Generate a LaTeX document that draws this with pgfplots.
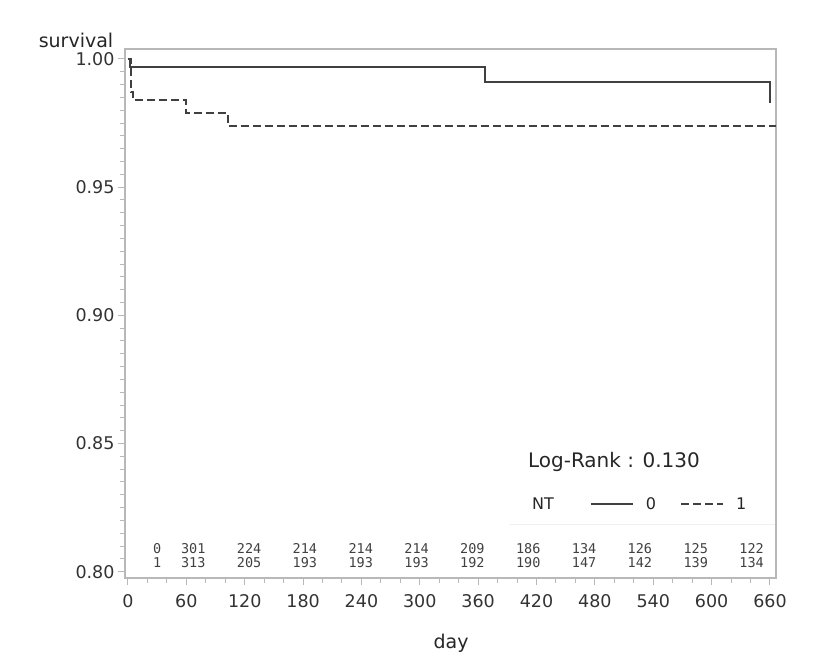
\documentclass[border=0pt]{standalone}
\usepackage{fontspec}
\setmainfont{DejaVu Sans}
\newfontfamily\monofont{DejaVu Sans Mono}
\usepackage{pgfplots}
\pgfplotsset{compat=1.18}
\definecolor{framegray}{gray}{0.72}
\definecolor{curvegray}{gray}{0.25}
\begin{document}
\begin{tikzpicture}
\path[use as bounding box] (-125pt,-80pt) rectangle (702pt,578pt);
\begin{axis}[
  scale only axis,
  width=651pt, height=529pt,
  xmin=-3.08, xmax=666.2,
  ymin=0.79754, ymax=1.0039,
  clip=false,
  axis line style={framegray, line width=1.2pt},
  xtick={0,60,...,660},
  ytick={0.80,0.85,0.90,0.95,1.00},
  minor x tick num=2,
  minor y tick num=9,
  xtick pos=left, ytick pos=left,
  tick align=outside,
  major tick length=7pt, minor tick length=5pt,
  every tick/.style={framegray, line width=1pt},
  /pgf/number format/assume math mode=true,
  xticklabel style={font=\fontsize{17.5}{20}\selectfont, color=black!80, yshift=-6pt},
  yticklabel style={font=\fontsize{17.5}{20}\selectfont, color=black!80, xshift=0pt,
     /pgf/number format/.cd, fixed, fixed zerofill, precision=2},
  xticklabel={\pgfmathprintnumber[assume math mode=true]{\tick}},
  every axis x label/.style={at={(axis description cs:0.5008,-0.1229)}, anchor=center},
  every axis y label/.style={at={(axis description cs:-0.0753,1.017)}, anchor=center},
  label style={font=\fontsize{19}{22}\selectfont, color=black!85},
  xlabel={day},
  ylabel={survival},
  legend columns=-1,
  legend style={at={(axis description cs:0.602,0.1399)}, anchor=west, draw=none, fill=none,
     font=\fontsize{16}{18}\selectfont, text=black!85,
     /tikz/every odd column/.append style={column sep=10pt},
     /tikz/every even column/.append style={column sep=22pt}},
  legend image code/.code={\draw[#1] (0pt,0pt) -- (42pt,0pt);},
]
\addlegendimage{empty legend}
\addlegendentry{NT\rule{12pt}{0pt}}
\addplot[const plot, curvegray, line width=2pt] coordinates {
  (0,1.000) (2.5,0.9970) (367,0.9911) (660.5,0.9828)
};
\addlegendentry{0}
\addplot[const plot, curvegray, line width=2pt, dash pattern=on 8pt off 4pt] coordinates {
  (0,1.000) (3,0.9870) (5,0.9839) (60,0.9791) (102.5,0.9740) (666,0.9740)
};
\addlegendentry{1}
\node[font=\fontsize{20}{22}\selectfont, text=black!85] at (axis description cs:0.751,0.2193) {Log-Rank : 0.130};
\draw[gray!12, line width=1pt] (axis description cs:0.591,0.102) -- (axis description cs:0.998,0.102);
% numbers at risk
\begin{scope}[every node/.style={font=\monofont\fontsize{13.5}{15}\selectfont, text=black!75}]
\node at (axis cs:30,0.8092) {0};
\node at (axis cs:30,0.8034) {1};
\node at (axis cs:67.1,0.8092) {301};   \node at (axis cs:67.1,0.8034) {313};
\node at (axis cs:124.5,0.8092) {224};  \node at (axis cs:124.5,0.8034) {205};
\node at (axis cs:181.9,0.8092) {214};  \node at (axis cs:181.9,0.8034) {193};
\node at (axis cs:239.3,0.8092) {214};  \node at (axis cs:239.3,0.8034) {193};
\node at (axis cs:296.7,0.8092) {214};  \node at (axis cs:296.7,0.8034) {193};
\node at (axis cs:354.1,0.8092) {209};  \node at (axis cs:354.1,0.8034) {192};
\node at (axis cs:411.5,0.8092) {186};  \node at (axis cs:411.5,0.8034) {190};
\node at (axis cs:468.9,0.8092) {134};  \node at (axis cs:468.9,0.8034) {147};
\node at (axis cs:526.3,0.8092) {126};  \node at (axis cs:526.3,0.8034) {142};
\node at (axis cs:583.7,0.8092) {125};  \node at (axis cs:583.7,0.8034) {139};
\node at (axis cs:641.1,0.8092) {122};  \node at (axis cs:641.1,0.8034) {134};
\end{scope}
\end{axis}
\end{tikzpicture}
\end{document}
